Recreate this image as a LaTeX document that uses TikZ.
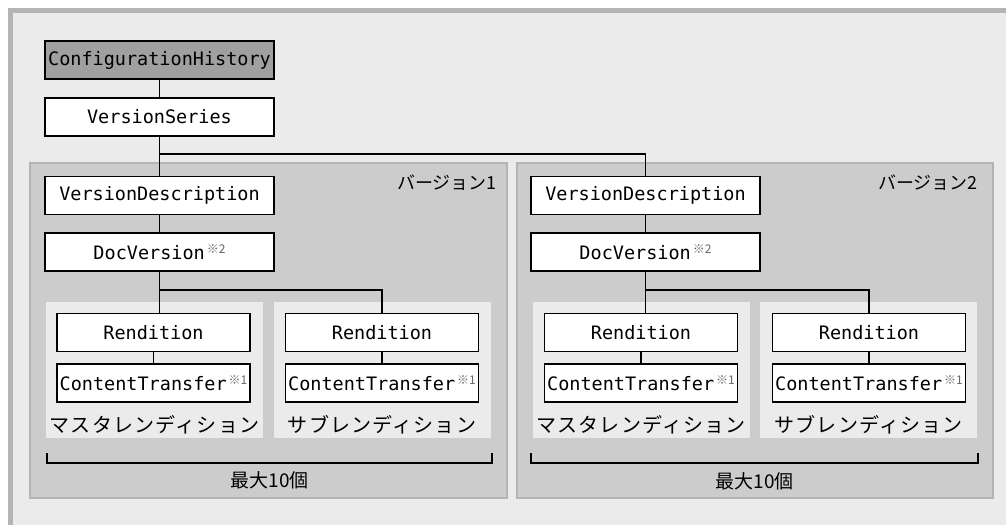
\documentclass[tikz,border=0pt]{standalone}
\usepackage{fontspec}
\usepackage{tikz}
\usetikzlibrary{positioning,calc}
\newfontfamily\mono{DejaVu Sans Mono}
\newfontfamily\jp{Noto Sans CJK JP}
\newfontfamily\jpwide[LetterSpace=6]{Noto Sans CJK JP}
\definecolor{outerbg}{RGB}{235,235,235}
\definecolor{framegray}{RGB}{180,180,180}
\definecolor{panelgray}{RGB}{204,204,204}
\definecolor{rootgray}{RGB}{160,160,160}
\newcommand{\note}[1]{{\jp\fontsize{12}{12}\selectfont\color{black!60}\,\raisebox{6pt}{#1}}}

\begin{document}
\begin{tikzpicture}[x=1pt, y=-1pt,
    cls/.style={rectangle, draw=black, line width=1.3pt, fill=white,
                minimum width=229pt, minimum height=38pt, inner sep=0pt,
                font=\mono\fontsize{18.5}{20}\selectfont},
    rend/.style={cls, minimum width=193pt},
    panel/.style={rectangle, draw=framegray, line width=1.2pt, fill=panelgray,
                  minimum width=477pt, minimum height=335pt, inner sep=0pt},
    subpanel/.style={rectangle, fill=outerbg, minimum width=217pt,
                     minimum height=136pt, inner sep=0pt},
    jplabel/.style={font=\jpwide\fontsize{20}{22}\selectfont, inner sep=0pt},
    link/.style={line width=1.3pt},
]
\useasboundingbox (0,0) rectangle (1006,525);

% Outer frame
\fill[outerbg] (10,10) rectangle (1006,525);
\draw[line width=5pt, color=framegray] (10.5,525) |- (1006,10.5);

% Version panels
\node[panel] (ver1) at (268.5,330.5) {};
\node[panel, minimum width=476pt] (ver2) at (755,330.5) {};
\node[jplabel, anchor=east, font=\jp\fontsize{18}{20}\selectfont] (ver1lbl) at (497,183) {バージョン1};
\node[jplabel, anchor=east, font=\jp\fontsize{18}{20}\selectfont] (ver2lbl) at (978,183) {バージョン2};

% Rendition panels
\node[subpanel] (sub1a) at (154.5,370) {};
\node[subpanel] (sub1b) at (382,370) {};
\node[subpanel] (sub2a) at (641,370) {};
\node[subpanel] (sub2b) at (868.5,370) {};

% Class nodes
\node[cls, fill=rootgray] (ch) at (159.5,60) {ConfigurationHistory};
\node[cls] (vs) at (159.5,117) {VersionSeries};
\node[cls] (vd1) at (159.5,195.5) {VersionDescription};
\node[cls] (dv1) at (159.5,252) {DocVersion\note{※2}};
\node[cls] (vd2) at (645.5,195.5) {VersionDescription};
\node[cls] (dv2) at (645.5,252) {DocVersion\note{※2}};

\node[rend] (r1a) at (153.5,332.5) {Rendition};
\node[rend] (ct1a) at (153.5,383) {ContentTransfer\note{※1}};
\node[rend] (r1b) at (382,332.5) {Rendition};
\node[rend] (ct1b) at (382,383) {ContentTransfer\note{※1}};
\node[rend] (r2a) at (641,332.5) {Rendition};
\node[rend] (ct2a) at (641,383) {ContentTransfer\note{※1}};
\node[rend] (r2b) at (869,332.5) {Rendition};
\node[rend] (ct2b) at (869,383) {ContentTransfer\note{※1}};

% Rendition labels
\node[jplabel] (lbl1a) at (154.5,425) {マスタレンディション};
\node[jplabel] (lbl1b) at (382,425) {サブレンディション};
\node[jplabel] (lbl2a) at (641,425) {マスタレンディション};
\node[jplabel] (lbl2b) at (868.5,425) {サブレンディション};

% Connections
\coordinate (fork0) at (159.5,154);
\coordinate (fork1) at (159.5,290);
\coordinate (fork2) at (645.5,290);
\draw[link] (ch) -- (vs);
\draw[link] (vs) -- (vd1);
\draw[link] (fork0) -| (vd2);
\draw[link] (vd1) -- (dv1);
\draw[link] (vd2) -- (dv2);
\draw[link] (dv1.south) -- (dv1.south |- r1a.north);
\draw[link] (fork1) -| (r1b);
\draw[link] (dv2.south) -- (dv2.south |- r2a.north);
\draw[link] (fork2) -| (r2b);
\foreach \r/\c in {r1a/ct1a, r1b/ct1b, r2a/ct2a, r2b/ct2b} {
    \draw[link] (\r) -- (\c);
}

% Brackets
\draw[link] (47,453) |- (492,463) -- (492,453);
\draw[link] (531,453) |- (978,463) -- (978,453);
\node[jplabel, font=\jp\fontsize{19}{21}\selectfont] (max1) at (269.5,480) {最大10個};
\node[jplabel, font=\jp\fontsize{19}{21}\selectfont] (max2) at (754.5,481) {最大10個};

\end{tikzpicture}
\end{document}
